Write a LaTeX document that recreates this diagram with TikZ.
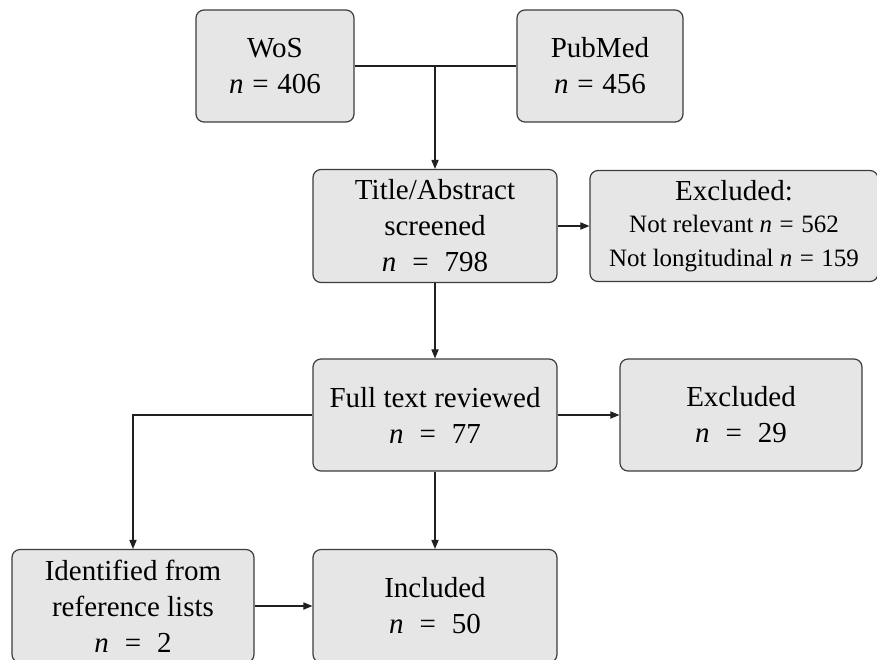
\documentclass[tikz,border=0pt]{standalone}
\usepackage{fontspec}
\setmainfont{Liberation Serif}
\usetikzlibrary{arrows.meta}
\definecolor{boxfill}{HTML}{E6E6E6}
\definecolor{boxline}{HTML}{3C3C3C}
\definecolor{linkcol}{HTML}{202020}
\newcommand{\smalltext}{\fontsize{12.5pt}{16pt}\selectfont}
\newcommand{\nval}[1]{\textit{n}\hspace{0.3em}=\hspace{0.3em}#1}
\newcommand{\nwide}[1]{\textit{n}\hspace{0.55em}=\hspace{0.55em}#1}
\begin{document}
\begin{tikzpicture}[x=0.5pt,y=-0.5pt,
  box/.style={draw=boxline, fill=boxfill, rounded corners=4pt, line width=0.6pt,
    align=center, inner sep=2pt, font=\fontsize{14.5pt}{18pt}\selectfont},
  link/.style={line width=0.55pt, draw=linkcol},
  arrow/.style={link, -{Triangle[length=4.5pt,width=3.6pt]}}]
\useasboundingbox (0,0) rectangle (877,659);

% sources
\node[box, minimum width=79pt, minimum height=56pt] (wos) at (275,66) {WoS\\\nval{406}};
\node[box, minimum width=83pt, minimum height=56pt] (pubmed) at (600,66) {PubMed\\\nval{456}};

% screening
\node[box, minimum width=122pt, minimum height=56.5pt] (title) at (435,226)
  {Title/Abstract\\screened\\\nwide{798}};
\node[box, minimum width=144pt, minimum height=55.5pt] (excla) at (734,226)
  {Excluded:\\[-2pt]{\smalltext Not relevant \nval{562}}\\[-1pt]{\smalltext Not longitudinal \nval{159}}};

% eligibility
\node[box, minimum width=122pt, minimum height=56pt] (full) at (435,415)
  {Full text reviewed\\\nwide{77}};
\node[box, minimum width=121pt, minimum height=56pt] (exclb) at (741,415)
  {Excluded\\\nwide{29}};

% inclusion
\node[box, minimum width=121pt, minimum height=56.5pt] (ident) at (133,606)
  {Identified from\\reference lists\\\nwide{2}};
\node[box, minimum width=122pt, minimum height=56.5pt] (incl) at (435,606)
  {Included\\\nwide{50}};

% connectors
\coordinate (join) at (title.north |- wos.east);
\draw[link] (wos.east) -- (pubmed.west);
\draw[arrow] (join) -- (title.north);
\draw[arrow] (title.east) -- (excla.west);
\draw[arrow] (title.south) -- (full.north);
\draw[arrow] (full.east) -- (exclb.west);
\draw[arrow] (full.south) -- (incl.north);
\draw[arrow] (full.west) -| (ident.north);
\draw[arrow] (ident.east) -- (incl.west);
\end{tikzpicture}
\end{document}
